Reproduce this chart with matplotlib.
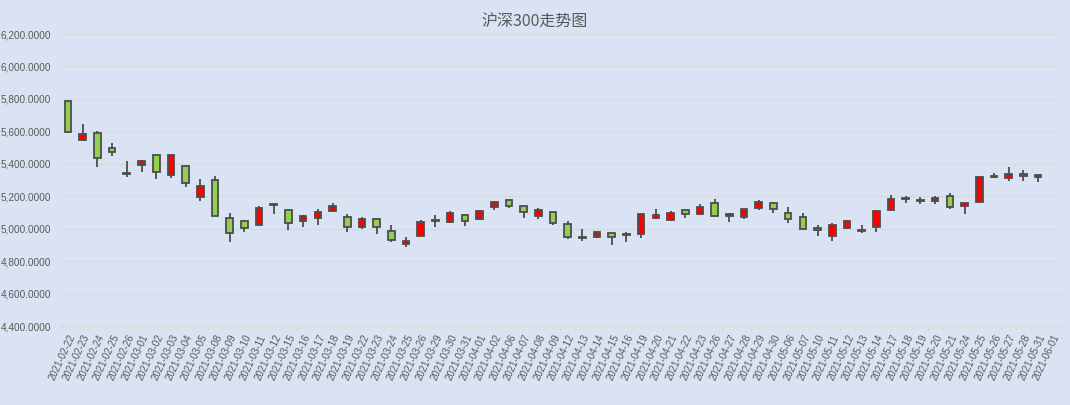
import numpy as np
import matplotlib
matplotlib.use("Agg")
import matplotlib.pyplot as plt
from matplotlib.ticker import FuncFormatter, FixedLocator

plt.rcParams['font.family'] = ['Liberation Sans', 'DejaVu Sans']

dates = ["2021-02-22", "2021-02-23", "2021-02-24", "2021-02-25", "2021-02-26",
         "2021-03-01", "2021-03-02", "2021-03-03", "2021-03-04", "2021-03-05",
         "2021-03-08", "2021-03-09", "2021-03-10", "2021-03-11", "2021-03-12",
         "2021-03-15", "2021-03-16", "2021-03-17", "2021-03-18", "2021-03-19",
         "2021-03-22", "2021-03-23", "2021-03-24", "2021-03-25", "2021-03-26",
         "2021-03-29", "2021-03-30", "2021-03-31", "2021-04-01", "2021-04-02",
         "2021-04-06", "2021-04-07", "2021-04-08", "2021-04-09", "2021-04-12",
         "2021-04-13", "2021-04-14", "2021-04-15", "2021-04-16", "2021-04-19",
         "2021-04-20", "2021-04-21", "2021-04-22", "2021-04-23", "2021-04-26",
         "2021-04-27", "2021-04-28", "2021-04-29", "2021-04-30", "2021-05-06",
         "2021-05-07", "2021-05-10", "2021-05-11", "2021-05-12", "2021-05-13",
         "2021-05-14", "2021-05-17", "2021-05-18", "2021-05-19", "2021-05-20",
         "2021-05-21", "2021-05-24", "2021-05-25", "2021-05-26", "2021-05-27",
         "2021-05-28", "2021-05-31", "2021-06-01"]

nan = np.nan
opens = [5785, 5544, 5587, 5495, 5342, 5390, 5452, 5328, 5384, 5193,
         5298, 5063, 5045, 5020, 5150, 5113, 5049, 5063, 5111, 5069,
         5012, 5061, 4987, 4907, 4956, 5048, 5042, 5086, 5061, 5135,
         5178, 5141, 5079, 5104, 5030, 4948, 4950, 4975, 4962, 4969,
         5067, 5055, 5116, 5092, 5159, 5079, 5073, 5129, 5159, 5098,
         5073, 5005, 4956, 5005, 4993, 5012, 5116, 5186, 5178, 5172,
         5203, 5141, 5166, 5320, 5313, 5338, 5320, nan]
highs = [5788, 5643, 5600, 5526, 5415, 5423, 5452, 5452, 5392, 5304,
         5322, 5094, 5053, 5139, 5152, 5119, 5084, 5119, 5158, 5088,
         5073, 5067, 5024, 4950, 5055, 5086, 5110, 5086, 5116, 5172,
         5184, 5141, 5129, 5104, 5049, 4999, 4987, 4975, 4981, 5092,
         5120, 5110, 5122, 5153, 5184, 5098, 5120, 5174, 5166, 5135,
         5098, 5024, 5036, 5055, 5024, 5116, 5209, 5203, 5196, 5203,
         5221, 5159, 5326, 5344, 5381, 5363, 5332, nan]
lows = [5592, 5538, 5378, 5448, 5316, 5349, 5304, 5314, 5254, 5172,
        5076, 4915, 4977, 5020, 5088, 4989, 5008, 5020, 5105, 4977,
        4999, 4969, 4919, 4888, 4956, 5012, 5036, 5018, 5055, 5116,
        5129, 5067, 5061, 5024, 4938, 4925, 4944, 4901, 4919, 4944,
        5061, 5049, 5067, 5086, 5073, 5042, 5061, 5116, 5098, 5036,
        4999, 4956, 4925, 4999, 4975, 4982, 5116, 5159, 5153, 5153,
        5122, 5092, 5166, 5313, 5296, 5296, 5290, nan]
closes = [5594, 5581, 5433, 5470, 5337, 5415, 5347, 5452, 5279, 5261,
          5076, 4971, 5002, 5125, 5145, 5032, 5078, 5100, 5137, 5008,
          5061, 5012, 4932, 4925, 5042, 5052, 5098, 5049, 5110, 5165,
          5141, 5104, 5116, 5036, 4950, 4944, 4981, 4950, 4968, 5092,
          5086, 5098, 5092, 5135, 5079, 5090, 5120, 5166, 5122, 5061,
          4999, 4993, 5024, 5049, 4988, 5110, 5184, 5190, 5172, 5190,
          5135, 5159, 5320, 5326, 5338, 5326, 5332, nan]

y_ticks = list(range(4400, 6201, 200))

o = np.array(opens, dtype=float)
h = np.array(highs, dtype=float)
l = np.array(lows, dtype=float)
c = np.array(closes, dtype=float)
x = np.arange(len(dates))
ok = ~np.isnan(o)

bg = '#dae3f3'
edge = '#4d4d4d'
cols = np.where(c >= o, '#ff0000', '#92d050')

fig = plt.figure(figsize=(10.7, 4.05), dpi=100, facecolor=bg)
ax = fig.add_axes([0.0567, 0.195, 0.9340, 0.721])
ax.set_facecolor(bg)

ax.vlines(x[ok], l[ok], h[ok], color=edge, lw=1.3, zorder=2)
ax.bar(x[ok], np.maximum(np.abs(c - o), 1.5)[ok], bottom=np.minimum(o, c)[ok],
       width=0.45, color=cols[ok], edgecolor=edge, linewidth=1.3, zorder=3)

ax.set_xlim(-0.5, len(dates) - 0.5)
ax.set_ylim(4400, 6200)
ax.set_yticks(y_ticks)
ax.yaxis.set_major_formatter(FuncFormatter(lambda v, p: f"{v:,.4f}"))
ax.grid(axis='y', color='#d9d9d9', lw=0.9, zorder=0)
ax.set_axisbelow(True)

for s in ['top', 'right', 'left']:
    ax.spines[s].set_visible(False)
ax.spines['bottom'].set_color('#d9d9d9')
ax.spines['bottom'].set_linewidth(0.9)

ax.set_xticks(x)
ax.set_xticklabels(dates, rotation=65, ha='right', va='top', rotation_mode='anchor')
ax.xaxis.set_minor_locator(FixedLocator(np.arange(-0.5, len(dates), 1.0)))
ax.tick_params(axis='x', which='major', length=0, pad=5, labelsize=7, labelcolor='#595959')
ax.tick_params(axis='x', which='minor', length=3, color='#d9d9d9', width=0.9)
ax.tick_params(axis='y', length=0, pad=7, labelsize=7.2, labelcolor='#595959')

fig.text(0.5, 0.945, "沪深300走势图", ha='center', va='center', fontsize=11.5,
         color='#595959', family=['Noto Sans CJK SC', 'DejaVu Sans'])

fig.savefig('out.png', dpi=100, facecolor=bg)
